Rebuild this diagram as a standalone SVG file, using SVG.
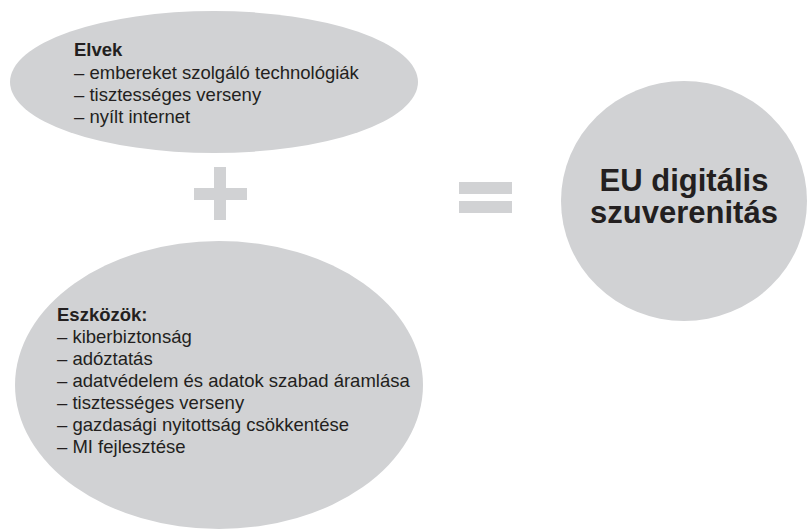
<svg xmlns="http://www.w3.org/2000/svg" width="810" height="529" viewBox="0 0 810 529">
<style>
.shape{fill:#d1d2d4;}
.t{font-family:"Liberation Sans",Arial,sans-serif;font-size:18.5px;fill:#231f20;}
.b{font-weight:bold;}
.big{font-family:"Liberation Sans",Arial,sans-serif;font-size:31px;font-weight:bold;fill:#231f20;text-anchor:middle;}
</style>
<rect width="810" height="529" fill="#ffffff"/>
<g id="elvek">
<ellipse class="shape" cx="214" cy="82" rx="204" ry="71"/>
<text class="t b" x="74" y="56">Elvek</text>
<text class="t" x="74" y="79">– embereket szolgáló technológiák</text>
<text class="t" x="74" y="101">– tisztességes verseny</text>
<text class="t" x="74" y="123">– nyílt internet</text>
</g>
<g id="eszkozok">
<ellipse class="shape" cx="219" cy="385" rx="204" ry="144"/>
<text class="t b" x="57" y="321">Eszközök:</text>
<text class="t" x="57" y="343">– kiberbiztonság</text>
<text class="t" x="57" y="365">– adóztatás</text>
<text class="t" x="57" y="387">– adatvédelem és adatok szabad áramlása</text>
<text class="t" x="57" y="409">– tisztességes verseny</text>
<text class="t" x="57" y="431">– gazdasági nyitottság csökkentése</text>
<text class="t" x="57" y="453">– MI fejlesztése</text>
</g>
<g id="plus">
<rect class="shape" x="214" y="167" width="12" height="53"/>
<rect class="shape" x="194" y="188" width="53" height="12"/>
</g>
<g id="equals">
<rect class="shape" x="459" y="182" width="53" height="12"/>
<rect class="shape" x="459" y="201" width="53" height="12"/>
</g>
<g id="szuverenitas">
<ellipse class="shape" cx="684" cy="201" rx="123" ry="120"/>
<text class="big" x="684" y="191">EU digitális</text>
<text class="big" x="684" y="223">szuverenitás</text>
</g>
<g id="connectors"></g>
</svg>
